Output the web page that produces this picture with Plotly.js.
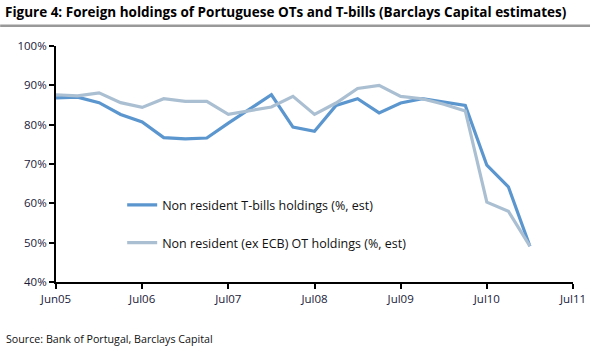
<!DOCTYPE html>
<html>
<head>
<meta charset="utf-8">
<script src="https://cdn.plot.ly/plotly-3.0.1.min.js"></script>
<style>html,body{margin:0;padding:0;background:#fff;}#chart{width:590px;height:352px;}</style>
</head>
<body>
<div id="chart"></div>
<script>
// Quarterly observations, Jun05 .. Dec10
const quarters = ["Jun05","Sep05","Dec05","Mar06","Jun06","Sep06","Dec06","Mar07","Jun07","Sep07","Dec07","Mar08","Jun08","Sep08","Dec08","Mar09","Jun09","Sep09","Dec09","Mar10","Jun10","Sep10","Dec10"];
const tbills = [86.8,87.0,85.6,82.6,80.7,76.7,76.4,76.6,80.4,84.1,87.6,79.4,78.3,84.9,86.6,83.0,85.5,86.6,85.8,84.9,69.7,64.2,49.1];
const otHoldings = [87.6,87.3,88.1,85.6,84.4,86.6,85.9,85.9,82.6,83.5,84.5,87.2,82.6,85.5,89.2,90.0,87.2,86.6,85.2,83.5,60.3,58.0,49.1];
const tickLabels = ["Jun05","Jul06","Jul07","Jul08","Jul09","Jul10","Jul11"];
const yTicks = [40,50,60,70,80,90,100];
const seriesNames = ["Non resident T-bills holdings (%, est)","Non resident (ex ECB) OT holdings (%, est)"];

const xIdx = quarters.map((q,i)=>i);
const FONT = "Open Sans, Noto Sans, sans-serif";

const traces = [
  {x:xIdx, y:tbills, type:'scatter', mode:'lines', name:seriesNames[0],
   line:{color:'#5b96cf', width:3.2}, legend:'legend'},
  {x:xIdx, y:otHoldings, type:'scatter', mode:'lines', name:seriesNames[1],
   line:{color:'#abbfd2', width:3.2}, legend:'legend2'}
];

const legendStyle = {bgcolor:'rgba(0,0,0,0)', borderwidth:0, font:{family:FONT,size:12.5,color:'#111'}, xanchor:'left', yanchor:'middle', itemwidth:30};

const layout = {
  width:590, height:352,
  margin:{l:56, r:17, t:46, b:70},
  paper_bgcolor:'#fff', plot_bgcolor:'#fff',
  showlegend:true,
  xaxis:{range:[0,24], tickmode:'array', tickvals:tickLabels.map((t,i)=>i*4), ticktext:tickLabels,
    showgrid:false, zeroline:false, showline:true, linecolor:'#000', linewidth:2,
    ticks:'outside', ticklen:5, tickwidth:2, tickcolor:'#000',
    tickfont:{family:FONT,size:11.5,color:'#1a1a3a'}, fixedrange:true},
  yaxis:{range:[40,100], tickmode:'array', tickvals:yTicks, ticktext:yTicks.map(v=>v+'%'),
    showgrid:false, zeroline:false, showline:true, linecolor:'#000', linewidth:2,
    ticks:'outside', ticklen:5, tickwidth:2, tickcolor:'#000',
    tickfont:{family:FONT,size:11.5,color:'#1a1a3a'}, fixedrange:true},
  legend:Object.assign({x:0.128, y:0.325}, legendStyle),
  legend2:Object.assign({x:0.128, y:0.165}, legendStyle),
  annotations:[
    {text:'<b>Figure 4: Foreign holdings of Portuguese OTs and T-bills (Barclays Capital estimates)</b>',
     xref:'paper', yref:'paper', x:-0.102, y:1.144, xanchor:'left', yanchor:'middle', showarrow:false,
     font:{family:FONT,size:13.5,color:'#000'}},
    {text:'Source: Bank of Portugal, Barclays Capital',
     xref:'paper', yref:'paper', x:-0.1, y:-0.24, xanchor:'left', yanchor:'middle', showarrow:false,
     font:{family:FONT,size:10.7,color:'#111'}}
  ],
  shapes:[
    {type:'line', xref:'paper', yref:'paper', x0:-0.108, x1:1.033, y0:1.086, y1:1.086,
     line:{color:'#999', width:2.5}}
  ]
};

Plotly.newPlot('chart', traces, layout, {displayModeBar:false, staticPlot:true});
</script>
</body>
</html>
